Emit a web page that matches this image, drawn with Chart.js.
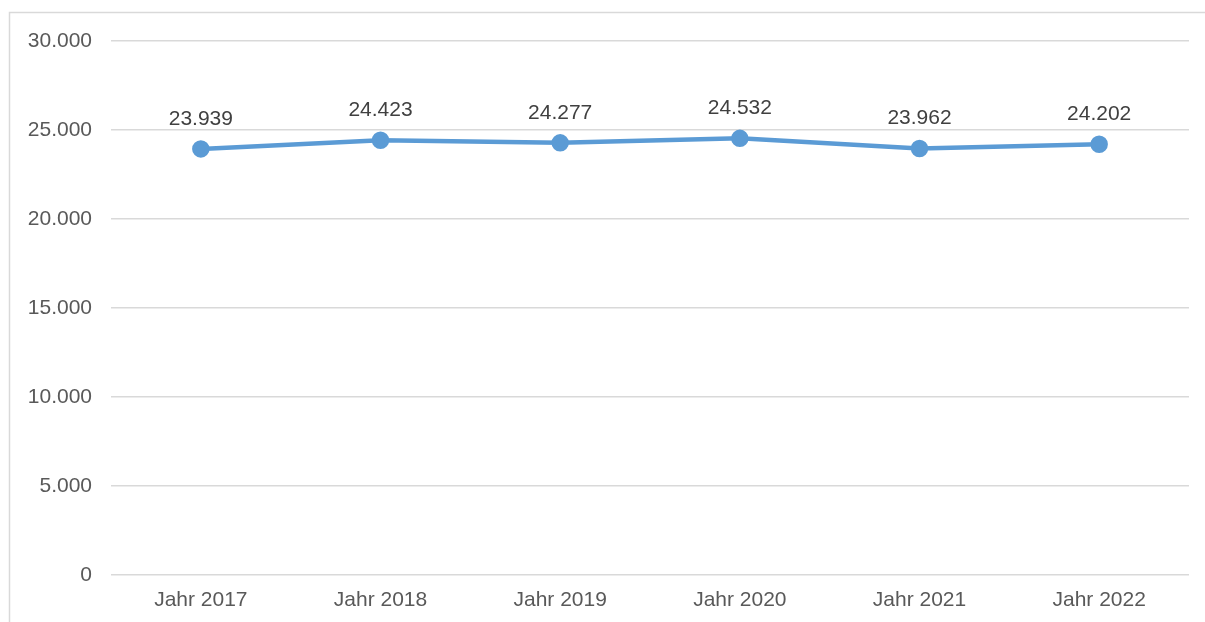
<!DOCTYPE html>
<html>
<head>
<meta charset="utf-8">
<script src="https://cdn.jsdelivr.net/npm/chart.js@4"></script>
<style>
  html, body { margin: 0; padding: 0; background: #fff; overflow: hidden; }
  #wrap { width: 1205px; height: 622px; position: relative; }
</style>
</head>
<body>
<div id="wrap"><canvas id="chart" width="1205" height="622"></canvas></div>
<script>
const years = ['Jahr 2017', 'Jahr 2018', 'Jahr 2019', 'Jahr 2020', 'Jahr 2021', 'Jahr 2022'];
const values = [23939, 24423, 24277, 24532, 23962, 24202];
const y_ticks = [0, 5000, 10000, 15000, 20000, 25000, 30000];

const fmt = (n) => String(n).replace(/\B(?=(\d{3})+(?!\d))/g, '.');
const font_family = '"Liberation Sans", Arial, sans-serif';

// frame of the chart box (cut off at right and bottom)
const frame = {
    id: 'frame',
    beforeDraw(chart) {
        const ctx = chart.ctx;
        ctx.save();
        ctx.strokeStyle = '#d9d9d9';
        ctx.lineWidth = 1.5;
        ctx.beginPath();
        ctx.moveTo(9.5, 622);
        ctx.lineTo(9.5, 12.5);
        ctx.lineTo(1205, 12.5);
        ctx.stroke();
        ctx.restore();
    }
};

// value labels above the points
const value_labels = {
    id: 'value_labels',
    afterDatasetsDraw(chart) {
        const ctx = chart.ctx;
        const meta = chart.getDatasetMeta(0);
        ctx.save();
        ctx.font = '21px ' + font_family;
        ctx.fillStyle = '#404040';
        ctx.textAlign = 'center';
        ctx.textBaseline = 'middle';
        meta.data.forEach((pt, i) => {
            ctx.fillText(fmt(values[i]), pt.x, pt.y - 30);
        });
        ctx.restore();
    }
};

new Chart(document.getElementById('chart'), {
    type: 'line',
    data: {
        labels: years,
        datasets: [{
            data: values,
            borderColor: '#5b9bd5',
            backgroundColor: '#5b9bd5',
            borderWidth: 4.5,
            pointRadius: 6.5,
            pointHoverRadius: 6.5,
            tension: 0,
            fill: false
        }]
    },
    options: {
        responsive: false,
        animation: false,
        layout: { padding: { top: 41, right: 16, left: 0, bottom: 0 } },
        plugins: {
            legend: { display: false },
            tooltip: { enabled: false }
        },
        scales: {
            x: {
                offset: true,
                grid: { display: false, drawTicks: false },
                border: { display: false },
                ticks: {
                    color: '#595959',
                    padding: 13,
                    font: { size: 21, family: font_family }
                },
                afterFit: (s) => { s.height = 47; }
            },
            y: {
                min: 0,
                max: 30000,
                afterBuildTicks: (s) => { s.ticks = y_ticks.map(v => ({ value: v })); },
                grid: { color: '#d9d9d9', lineWidth: 1.5, drawTicks: false },
                border: { display: false },
                ticks: {
                    color: '#595959',
                    padding: 19,
                    font: { size: 21, family: font_family },
                    callback: (v) => fmt(v)
                },
                afterFit: (s) => { s.width = 111; }
            }
        }
    },
    plugins: [frame, value_labels]
});
</script>
</body>
</html>
